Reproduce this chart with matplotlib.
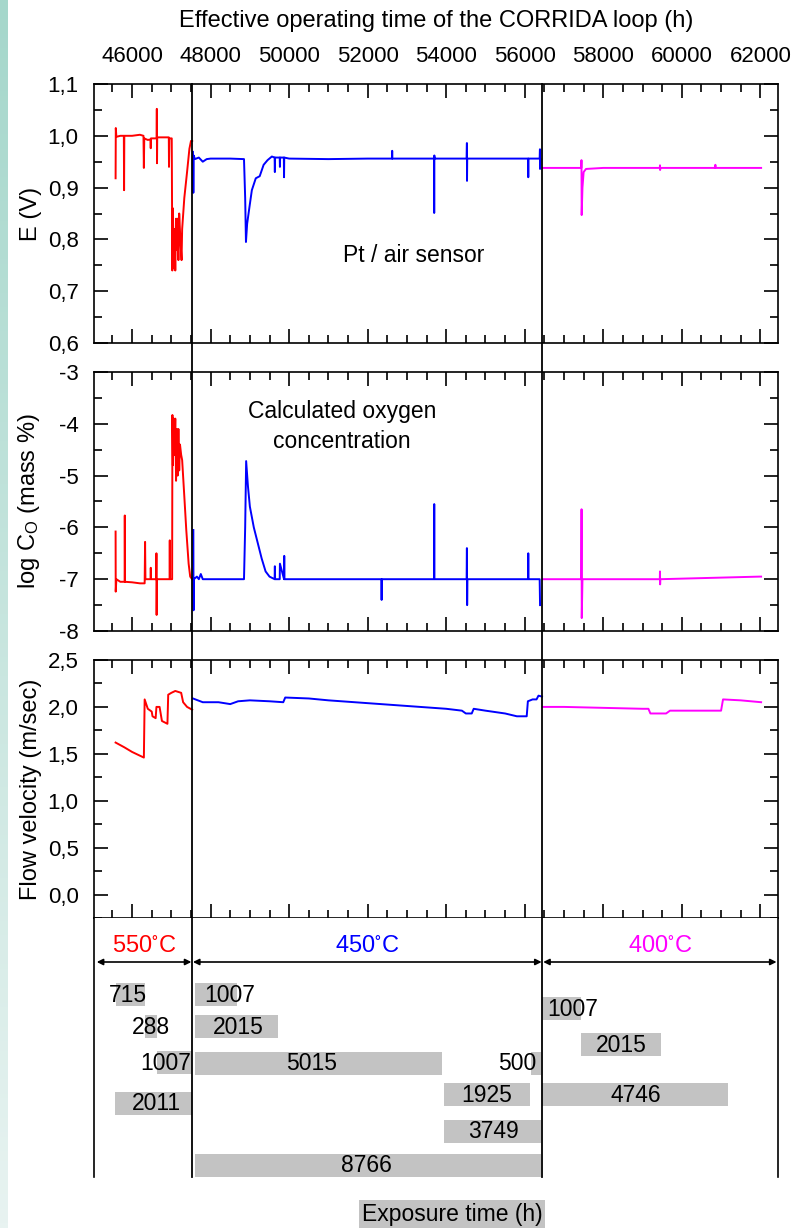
import matplotlib
matplotlib.use("Agg")
import matplotlib.pyplot as plt
import numpy as np
from matplotlib.ticker import MultipleLocator, FuncFormatter
from matplotlib.transforms import blended_transform_factory
from matplotlib.lines import Line2D
from matplotlib.colors import LinearSegmentedColormap

plt.rcParams['font.family'] = ['Liberation Sans', 'DejaVu Sans']
plt.rcParams['mathtext.default'] = 'regular'

# ---- data ----
# operating time (h) and sensor potential E (V)
e_red_t = [45580, 45585, 45600, 45700, 45790, 45796, 45802, 46000, 46200, 46290, 46300, 46310,
           46400, 46470, 46475, 46480, 46560, 46625, 46630, 46635, 46640, 46800, 46935, 46940,
           46950, 47010, 47025, 47040, 47060, 47080, 47100, 47120, 47140, 47160, 47180, 47200,
           47230, 47260, 47275, 47330, 47400, 47460, 47500, 47530]
e_red_v = [0.918, 1.015, 0.998, 1.000, 1.000, 0.895, 1.000, 1.000, 1.002, 1.000, 0.938, 0.995,
           0.992, 0.993, 0.976, 0.995, 0.995, 0.995, 1.052, 0.947, 0.997, 0.997, 0.997, 0.940,
           0.995, 0.995, 0.740, 0.860, 0.745, 0.820, 0.740, 0.840, 0.780, 0.840, 0.760, 0.850,
           0.800, 0.760, 0.820, 0.880, 0.930, 0.975, 0.990, 0.990]
e_blue_t = [47550, 47560, 47570, 47600, 47700, 47800, 47900, 48000, 48500, 48850, 48880, 48900,
            48930, 48990, 49050, 49150, 49250, 49350, 49450, 49560, 49630, 49636, 49642, 49760,
            49765, 49770, 49865, 49870, 49875, 50000, 51000, 52000, 52620, 52624, 52628, 53690,
            53694, 53698, 53702, 54520, 54527, 54530, 54535, 55800, 56085, 56090, 56095, 56380,
            56387, 56390, 56400]
e_blue_v = [0.969, 0.890, 0.962, 0.955, 0.958, 0.950, 0.955, 0.956, 0.956, 0.955, 0.880, 0.795,
            0.830, 0.863, 0.895, 0.918, 0.922, 0.944, 0.953, 0.960, 0.958, 0.930, 0.958, 0.958,
            0.940, 0.958, 0.958, 0.920, 0.958, 0.956, 0.955, 0.956, 0.956, 0.971, 0.956, 0.956,
            0.851, 0.962, 0.956, 0.956, 0.986, 0.913, 0.956, 0.956, 0.956, 0.920, 0.956, 0.956,
            0.974, 0.936, 0.955]
e_mag_t = [56460, 57000, 57440, 57445, 57450, 57470, 57500, 57560, 58000, 59440, 59444, 59448,
           59452, 60500, 60850, 60855, 60860, 61850, 62020]
e_mag_v = [0.938, 0.938, 0.938, 0.953, 0.847, 0.900, 0.930, 0.936, 0.938, 0.938, 0.943, 0.934,
           0.938, 0.938, 0.938, 0.944, 0.938, 0.938, 0.938]

# log of oxygen concentration (mass %)
c_red_t = [45580, 45583, 45600, 45700, 45810, 45814, 45820, 46000, 46200, 46320, 46331, 46340,
           46470, 46476, 46482, 46615, 46620, 46625, 46632, 46955, 46960, 46965, 47020, 47027,
           47040, 47060, 47080, 47100, 47120, 47140, 47160, 47180, 47200, 47220, 47250, 47275,
           47330, 47380, 47440, 47480, 47530]
c_red_v = [-6.08, -7.24, -7.00, -7.05, -7.05, -5.77, -7.05, -7.06, -7.08, -7.08, -6.28, -7.00,
           -7.00, -6.78, -7.00, -7.00, -6.50, -7.69, -7.00, -7.00, -6.25, -7.00, -7.00, -3.83,
           -4.80, -3.90, -4.60, -3.90, -5.10, -4.10, -5.00, -4.10, -4.90, -4.40, -4.60, -4.70,
           -5.40, -6.05, -6.70, -6.95, -7.00]
c_blue_t = [47560, 47565, 47575, 47650, 47700, 47750, 47800, 48850, 48880, 48905, 48950, 49000,
            49100, 49200, 49300, 49400, 49500, 49630, 49636, 49642, 49760, 49765, 49870, 49875,
            49880, 52350, 52355, 52360, 53690, 53695, 53700, 54520, 54527, 54533, 54540, 56085,
            56090, 56095, 56380, 56390]
c_blue_v = [-6.05, -7.60, -7.00, -6.95, -7.00, -6.90, -7.00, -7.00, -6.00, -4.72, -5.20, -5.60,
            -6.00, -6.30, -6.60, -6.85, -6.95, -7.00, -6.75, -7.00, -7.00, -6.70, -7.00, -6.55,
            -7.00, -7.00, -7.40, -7.00, -7.00, -5.55, -7.00, -7.00, -6.40, -7.50, -7.00, -7.00,
            -6.50, -7.00, -7.00, -7.50]
c_mag_t = [56460, 57440, 57447, 57452, 57470, 59440, 59444, 59448, 59452, 61980, 62020]
c_mag_v = [-7.00, -7.00, -5.65, -7.75, -7.00, -7.00, -6.85, -7.10, -7.00, -6.95, -6.95]

# flow velocity (m/sec)
f_red_t = [45580, 45800, 46000, 46200, 46300, 46320, 46400, 46500, 46520, 46600, 46620, 46700,
           46760, 46900, 46920, 47000, 47100, 47250, 47300, 47400, 47530]
f_red_v = [1.62, 1.57, 1.52, 1.48, 1.46, 2.08, 1.98, 1.95, 1.90, 1.88, 2.00, 2.00,
           1.85, 1.82, 2.13, 2.15, 2.17, 2.15, 2.05, 2.00, 1.97]
f_blue_t = [47550, 47800, 48200, 48500, 48700, 49000, 49500, 49850, 49900, 50500, 51000, 52000,
            53000, 54000, 54400, 54500, 54650, 54700, 55000, 55500, 55800, 56050, 56080, 56200,
            56300, 56350, 56440]
f_blue_v = [2.09, 2.05, 2.05, 2.03, 2.06, 2.07, 2.06, 2.05, 2.10, 2.09, 2.07, 2.04,
            2.01, 1.98, 1.96, 1.93, 1.93, 1.98, 1.96, 1.93, 1.90, 1.90, 2.06, 2.08,
            2.08, 2.12, 2.11]
f_mag_t = [56460, 57000, 58000, 59000, 59150, 59200, 59600, 59700, 60500, 61000, 61050, 61500, 62020]
f_mag_v = [2.00, 2.00, 1.99, 1.98, 1.98, 1.93, 1.93, 1.96, 1.96, 1.96, 2.08, 2.07, 2.05]

# temperature periods
period_bounds = [45080, 47530, 56450, 62433]
period_labels = ['550', '450', '400']
period_colors = ['#ff0000', '#0000ff', '#ff00ff']

# exposure bars: label, start (h), end (h), row, label position (h)
bar_labels = ['715', '288', '1007', '2011', '1007', '2015', '5015', '500', '1925', '3749', '8766',
              '1007', '2015', '4746']
bar_start = [45592, 46331, 46637, 45567, 47605, 47605, 47605, 56166, 53949, 53949, 47605,
             56446, 57439, 56446]
bar_end = [46331, 46637, 47529, 47529, 48675, 49720, 53898, 56420, 56140, 56420, 56420,
           57439, 59478, 61185]
bar_row = [76, 108, 144, 185, 76, 108, 145, 145, 176, 213, 247, 90, 126, 176]
bar_text_x = [45898, 46484, 46866, 46611, 48497, 48701, 50573, 55809, 55019, 55210, 51962,
              57210, 58459, 58841]

xlim = (45030, 62450)
GRAY = '#c3c3c3'
LW = 1.4
FS = 16.5

fig = plt.figure(figsize=(7.92, 12.28), dpi=100)

# teal strip at the left edge
strip = fig.add_axes([0, 0, 0.01, 1])
grad = np.linspace(0, 1, 256).reshape(-1, 1)
cm = LinearSegmentedColormap.from_list('strip', ['#a5d7cb', '#e8f3f1'])
strip.imshow(grad, aspect='auto', cmap=cm)
strip.axis('off')

L, W = 94 / 792, 684 / 792
H = 1228
ax1 = fig.add_axes([L, 1 - 343 / H, W, 259 / H])
ax2 = fig.add_axes([L, 1 - 631 / H, W, 259 / H])
ax3 = fig.add_axes([L, 1 - 918 / H, W, 258 / H])
ax4 = fig.add_axes([L, 1 - 1177 / H, W, 259 / H])

comma1 = FuncFormatter(lambda v, p: f'{v:.1f}'.replace('.', ','))
intfmt = FuncFormatter(lambda v, p: f'{v:.0f}')

for ax in (ax1, ax2, ax3):
    ax.set_xlim(*xlim)
    ax.xaxis.set_major_locator(MultipleLocator(2000))
    ax.xaxis.set_minor_locator(MultipleLocator(500))
    ax.tick_params(which='both', direction='in', top=True, right=True, width=1.2,
                   labelbottom=False, labelsize=16, pad=11)
    ax.tick_params(which='major', length=10)
    ax.tick_params(which='minor', length=6)
    for s in ax.spines.values():
        s.set_linewidth(1.2)

ax1.plot(e_red_t, e_red_v, color=period_colors[0], lw=LW)
ax1.plot(e_blue_t, e_blue_v, color=period_colors[1], lw=LW)
ax1.plot(e_mag_t, e_mag_v, color=period_colors[2], lw=LW)
ax1.set_ylim(0.6, 1.1)
ax1.yaxis.set_major_locator(MultipleLocator(0.1))
ax1.yaxis.set_minor_locator(MultipleLocator(0.05))
ax1.yaxis.set_major_formatter(comma1)
ax1.tick_params(axis='x', labeltop=True, pad=12)
ax1.xaxis.set_label_position('top')
ax1.set_xlabel('Effective operating time of the CORRIDA loop (h)', fontsize=17, labelpad=14)
ax1.set_ylabel('E (V)', fontsize=17)
ax1.yaxis.set_label_coords(-0.076, 0.5)
ax1.text(0.468, 0.336, 'Pt / air sensor', transform=ax1.transAxes, ha='center', va='center',
         fontsize=FS)

ax2.plot(c_red_t, c_red_v, color=period_colors[0], lw=LW)
ax2.plot(c_blue_t, c_blue_v, color=period_colors[1], lw=LW)
ax2.plot(c_mag_t, c_mag_v, color=period_colors[2], lw=LW)
ax2.set_ylim(-8, -3)
ax2.yaxis.set_major_locator(MultipleLocator(1))
ax2.yaxis.set_minor_locator(MultipleLocator(0.5))
ax2.yaxis.set_major_formatter(intfmt)
ax2.set_ylabel('log C$_O$ (mass %)', fontsize=17)
ax2.yaxis.set_label_coords(-0.076, 0.5)
ax2.text(0.3626, 0.79, 'Calculated oxygen\nconcentration', transform=ax2.transAxes,
         ha='center', va='center', fontsize=FS, linespacing=1.4)

ax3.plot(f_red_t, f_red_v, color=period_colors[0], lw=LW)
ax3.plot(f_blue_t, f_blue_v, color=period_colors[1], lw=LW)
ax3.plot(f_mag_t, f_mag_v, color=period_colors[2], lw=LW)
ax3.set_ylim(-0.25, 2.5)
ax3.yaxis.set_major_locator(MultipleLocator(0.5))
ax3.yaxis.set_minor_locator(MultipleLocator(0.25))
ax3.yaxis.set_major_formatter(comma1)
ax3.set_ylabel('Flow velocity (m/sec)', fontsize=17)
ax3.yaxis.set_label_coords(-0.076, 0.5)

# exposure-time panel
ax4.set_xlim(*xlim)
ax4.set_ylim(259, 0)
ax4.set_xticks([])
ax4.set_yticks([])
ax4.spines['top'].set_visible(False)
ax4.spines['bottom'].set_visible(False)
for s in ('left', 'right'):
    ax4.spines[s].set_linewidth(1.2)

for i, lab in enumerate(period_labels):
    a, b = period_bounds[i], period_bounds[i + 1]
    ax4.text((a + b) / 2, 28, lab + r'$^{\circ}$C', color=period_colors[i], ha='center',
             va='center', fontsize=17)
    ax4.annotate('', xy=(b - 20, 44), xytext=(a + 20, 44),
                 arrowprops=dict(arrowstyle='<|-|>', color='black', lw=1.2,
                                 mutation_scale=9, shrinkA=0, shrinkB=0))

for lab, x0, x1, row, tx in zip(bar_labels, bar_start, bar_end, bar_row, bar_text_x):
    ax4.barh(row, x1 - x0, left=x0, height=23, color=GRAY, zorder=1)
    ax4.text(tx, row + 1, lab, ha='center', va='center', fontsize=FS, zorder=2)

fig.text(452 / 792, 1 - 1214 / H, 'Exposure time (h)', ha='center', va='center', fontsize=16.5,
         bbox=dict(boxstyle='square,pad=0.1', fc=GRAY, ec='none'))

# period dividers running through all panels
tr = blended_transform_factory(ax1.transData, fig.transFigure)
for t in period_bounds[1:3]:
    fig.add_artist(Line2D([t, t], [1 - 1177 / H, 1 - 84 / H], transform=tr, color='black',
                          lw=1.3, zorder=5))

fig.savefig('out.png', dpi=100)
